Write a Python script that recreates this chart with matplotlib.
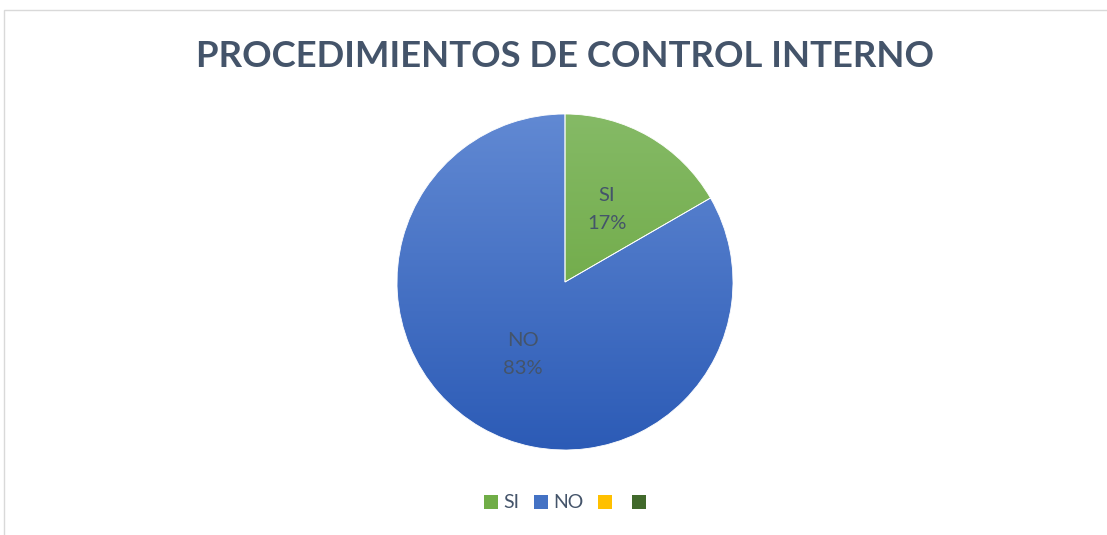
import numpy as np
import matplotlib
matplotlib.use("Agg")
import matplotlib.pyplot as plt
from matplotlib.patches import Patch, Rectangle
from matplotlib.colors import LinearSegmentedColormap

# Data
title = "PROCEDIMIENTOS DE CONTROL INTERNO"
categories = ["SI", "NO", "", ""]
values = [1, 5, 0, 0]
pct_labels = ["17%", "83%"]

plt.rcParams['font.family'] = ['Lato', 'DejaVu Sans']
TXT = '#44546a'

W, H = 1107, 535
fig = plt.figure(figsize=(W / 100, H / 100), dpi=100)
fig.patch.set_facecolor('white')

# chart border
fig.patches.append(Rectangle((3.5 / W, -0.05), 1.2, (H - 9.5) / H + 0.05,
                             transform=fig.transFigure, fill=False,
                             edgecolor='#d9d9d9', linewidth=1.0))

cx, cy, r = 565, H - 282, 168
ax = fig.add_axes([(cx - r) / W, (cy - r) / H, 2 * r / W, 2 * r / H])

wedges, _ = ax.pie(values[:2], startangle=90, counterclock=False, radius=1,
                   wedgeprops=dict(edgecolor='white', linewidth=0.6))

grads = [('#85ba66', '#62a033'), ('#6189d3', '#2c5bb6')]
for w, (top, bot) in zip(wedges, grads):
    cmap = LinearSegmentedColormap.from_list('g', [bot, top])
    g = np.linspace(0, 1, 256).reshape(-1, 1)
    im = ax.imshow(g, cmap=cmap, extent=(-1, 1, -1, 1), origin='lower',
                   aspect='auto', zorder=1)
    im.set_clip_path(w)
    w.set_facecolor('none')
    w.set_zorder(2)

# data labels
start = 90
total = sum(values)
acc = 0
for i in range(2):
    mid = start - 360 * (acc + values[i] / 2) / total
    acc += values[i]
    x = 0.5 * np.cos(np.radians(mid))
    y = 0.5 * np.sin(np.radians(mid))
    ax.text(x, y, f"{categories[i]}\n{pct_labels[i]}", ha='center', va='center',
            fontsize=14.5, color=TXT, linespacing=1.8, zorder=3)

ax.set_xlim(-1, 1)
ax.set_ylim(-1, 1)
ax.axis('off')

fig.text(cx / W, (H - 57) / H, title, ha='center', va='center',
         fontsize=26.3, fontweight='bold', color=TXT)

leg_colors = ['#70ad47', '#4472c4', '#ffc000', '#41692b']
handles = [Patch(facecolor=c, edgecolor='none', label=l)
           for c, l in zip(leg_colors, categories)]
fig.legend(handles=handles, loc='center', bbox_to_anchor=(568 / W, (H - 503) / H),
           ncol=4, frameon=False, fontsize=14, handlelength=0.7, handleheight=0.7,
           handletextpad=0.3, columnspacing=0.75, labelcolor=TXT)

fig.savefig('out.png', dpi=100, facecolor='white')
